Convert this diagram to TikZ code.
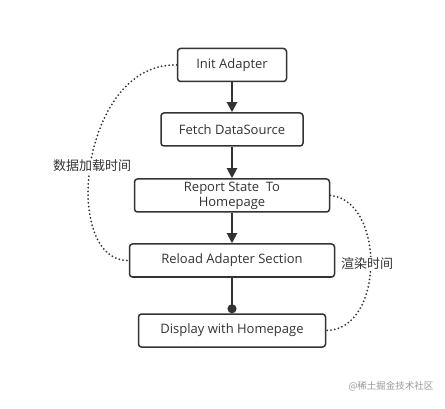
\documentclass[tikz,border=0pt]{standalone}
\usepackage{fontspec}
\setmainfont{Open Sans}
\newfontfamily\cjk{Noto Sans CJK SC}
\usetikzlibrary{arrows.meta}
\definecolor{boxline}{HTML}{333333}
\tikzset{
  stepbox/.style={draw=boxline, line width=1.5pt, rounded corners=3pt, fill=white,
    minimum height=33pt, inner sep=1pt, align=center, text=boxline,
    font=\fontsize{13}{15}\selectfont},
  flow/.style={draw=boxline, line width=1.9pt, -{Triangle[width=10pt,length=10pt]}},
  dotlink/.style={draw=boxline, line width=1.9pt, -{Circle[length=9pt]}},
  span/.style={draw=boxline, line width=2pt, line cap=round, dash pattern=on 0pt off 3.8pt},
  spanlabel/.style={fill=white, inner sep=1pt, text=boxline, font=\cjk\fontsize{13}{15}\selectfont}
}
\begin{document}
\begin{tikzpicture}[x=1pt,y=-1pt]
    \useasboundingbox (0,0) rectangle (445,409);
    % the five steps
    \node[stepbox, minimum width=109pt] (init) at (232,65) {Init Adapter};
    \node[stepbox, minimum width=142pt] (fetch) at (232,129.5) {Fetch DataSource};
    \node[stepbox, minimum width=195pt] (report) at (232,195.5) {Report State\ \ To\\Homepage};
    \node[stepbox, minimum width=205pt] (reload) at (232,260.5) {Reload Adapter Section};
    \node[stepbox, minimum width=187pt] (display) at (232,330.5) {Display with Homepage};
    \draw[flow] (init) -- (fetch);
    \draw[flow] (fetch) -- (report);
    \draw[flow] (report) -- (reload);
    \draw[dotlink] (reload) -- (display);
    % timing spans
    \draw[span] (init.west) .. controls (80,62) and (60,262) .. (reload.west);
    \draw[span] (report.east) .. controls (385,200) and (385,330) .. (display.east);
    \node[spanlabel] (loadtime) at (92,166) {数据加载时间};
    \node[spanlabel] (rendertime) at (367,264) {渲染时间};
    \node[text=black!40, font=\cjk\fontsize{9.5}{10}\selectfont] (mark) at (391,386) {@稀土掘金技术社区};
\end{tikzpicture}
\end{document}
